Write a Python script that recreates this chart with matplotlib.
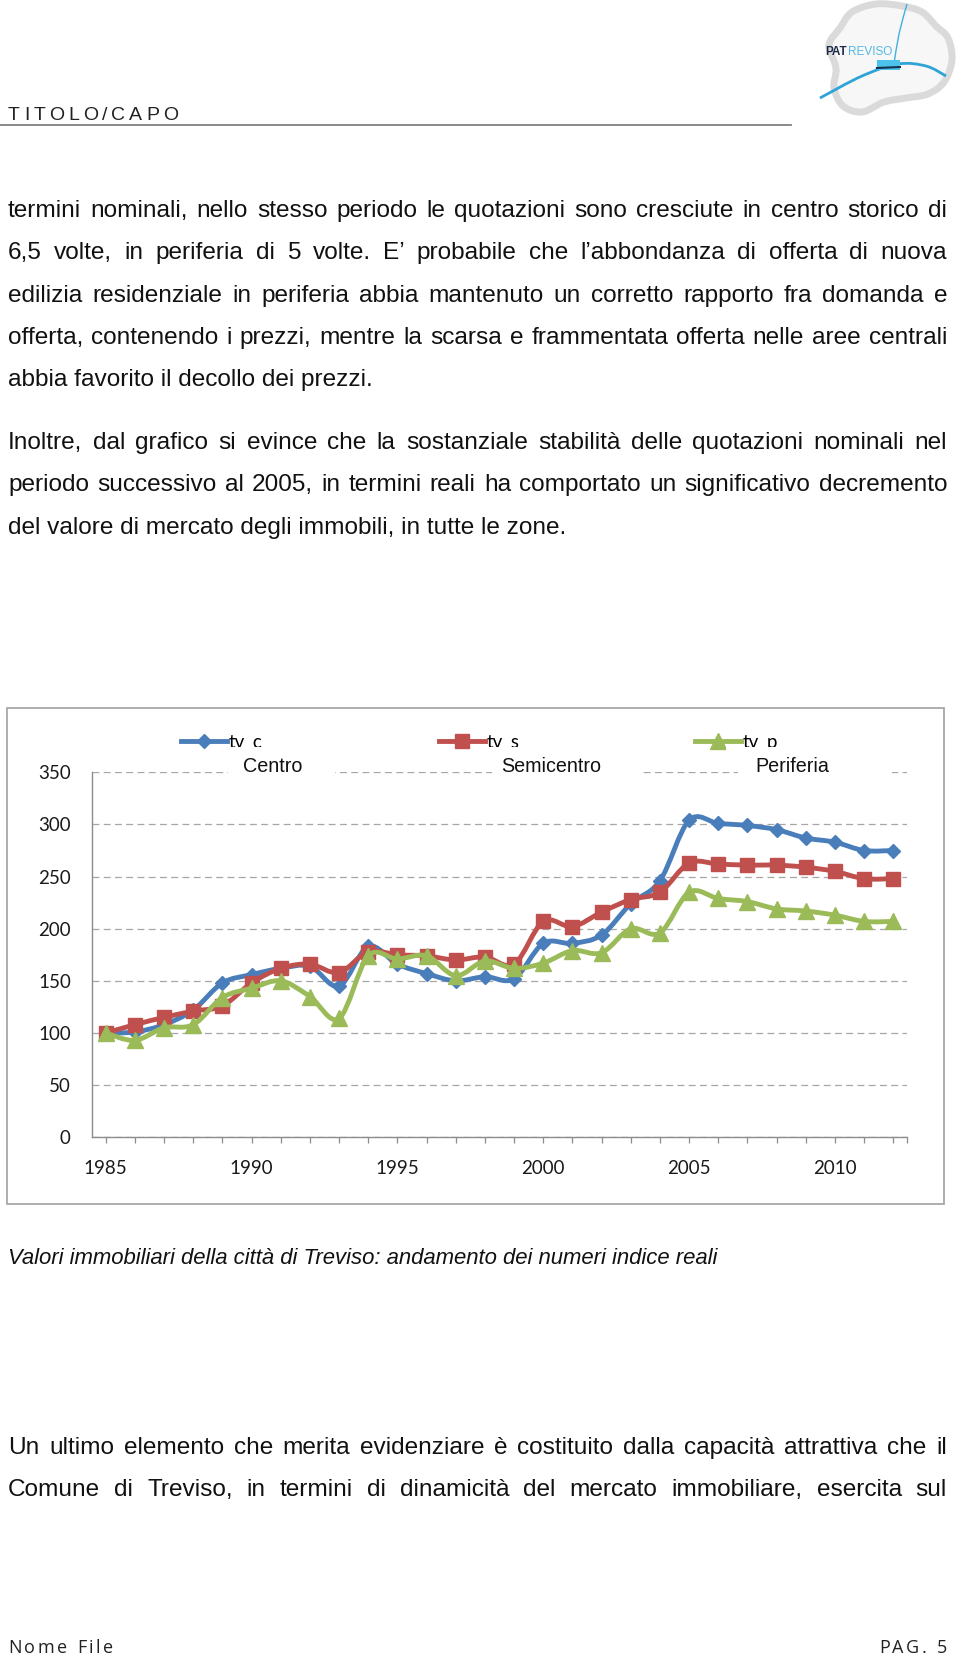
import numpy as np
import matplotlib
matplotlib.use("Agg")
import matplotlib.pyplot as plt
from matplotlib.path import Path
from matplotlib.patches import PathPatch, Rectangle
from matplotlib.lines import Line2D

# ---------------- data ----------------
years = list(range(1985, 2013))
tv_c = [100, 101, 108, 122, 148, 156, 162, 164, 145, 183, 166, 157, 150, 154,
        152, 186, 186, 194, 224, 246, 304, 301, 299, 295, 287, 283, 275, 275]
tv_s = [100, 108, 115, 121, 126, 148, 162, 166, 158, 178, 175, 174, 170, 173,
        166, 207, 202, 216, 228, 235, 263, 262, 261, 261, 259, 255, 248, 248]
tv_p = [100, 93, 105, 108, 134, 143, 150, 135, 114, 174, 171, 174, 155, 169,
        162, 167, 179, 177, 200, 196, 235, 229, 226, 219, 217, 213, 207, 207]
series_names = ["tv_c", "tv_s", "tv_p"]
zone_labels = ["Centro", "Semicentro", "Periferia"]
year_labels = ["1985", "1990", "1995", "2000", "2005", "2010"]
y_ticks = [0, 50, 100, 150, 200, 250, 300, 350]

para1 = [
    "termini nominali, nello stesso periodo le quotazioni sono cresciute in centro storico di",
    "6,5 volte, in periferia di 5 volte. E’ probabile che l’abbondanza di offerta di nuova",
    "edilizia residenziale in periferia abbia mantenuto un corretto rapporto fra domanda e",
    "offerta, contenendo i prezzi, mentre la scarsa e frammentata offerta nelle aree centrali",
    "abbia favorito il decollo dei prezzi.",
]
para2 = [
    "Inoltre, dal grafico si evince che la sostanziale stabilità delle quotazioni nominali nel",
    "periodo successivo al 2005, in termini reali ha comportato un significativo decremento",
    "del valore di mercato degli immobili, in tutte le zone.",
]
para3 = [
    "Un ultimo elemento che merita evidenziare è costituito dalla capacità attrattiva che il",
    "Comune di Treviso, in termini di dinamicità del mercato immobiliare, esercita sul",
]
caption = "Valori immobiliari della città di Treviso: andamento dei numeri indice reali"
header = "TITOLO/CAPO"
footer_left = "Nome File"
footer_right = "PAG. 5"

# ---------------- figure ----------------
W, H = 960, 1657
fig = plt.figure(figsize=(W / 100, H / 100), dpi=100)
fig.patch.set_facecolor("white")
renderer = fig.canvas.get_renderer()


def fx(x):
    return x / W


def fy(y):
    return 1 - y / H


def measure(s, **kw):
    t = fig.text(0, 0, s, **kw)
    w = t.get_window_extent(renderer).width
    t.remove()
    return w


BODY = dict(fontsize=17.6, family=["Liberation Sans", "DejaVu Sans"], color="#111111")


def justify(y, line, x0=8, x1=947, justified=True, **kw):
    words = line.split(" ")
    if not justified:
        fig.text(fx(x0), fy(y), line, va="baseline", ha="left", **kw)
        return
    widths = [measure(w, **kw) for w in words]
    gap = (x1 - x0 - sum(widths)) / (len(words) - 1)
    x = x0
    for w, wd in zip(words, widths):
        fig.text(fx(x), fy(y), w, va="baseline", ha="left", **kw)
        x += wd + gap


def tracked(x, y, s, track, ha="left", **kw):
    base = measure("H", **kw)
    offs = [0.0] + [measure(s[:i] + "H", **kw) - base for i in range(1, len(s) + 1)]
    total = offs[-1] + track * (len(s) - 1)
    if ha == "right":
        x = x - total
    for i, ch in enumerate(s):
        if ch.strip():
            fig.text(fx(x + offs[i] + track * i), fy(y), ch, va="baseline", ha="left", **kw)


# header
tracked(8, 120, header, 4.0, fontsize=14, family=["Liberation Sans"], color="#222222")
fig.add_artist(Line2D([0, fx(791)], [fy(125), fy(125)], transform=fig.transFigure,
                      color="#808080", lw=1.3))


# logo (approximate drawing)
def closed_smooth(pts, t=1 / 6):
    pts = np.asarray(pts, float)
    n = len(pts)
    verts = [tuple(pts[0])]
    codes = [Path.MOVETO]
    for i in range(n):
        p0, p1, p2, p3 = pts[i - 1], pts[i], pts[(i + 1) % n], pts[(i + 2) % n]
        c1 = p1 + (p2 - p0) * t
        c2 = p2 - (p3 - p1) * t
        verts += [tuple(c1), tuple(c2), tuple(p2)]
        codes += [Path.CURVE4] * 3
    return Path(verts, codes)


def open_smooth(pts, t=1 / 6):
    pts = np.asarray(pts, float)
    n = len(pts)
    verts = [tuple(pts[0])]
    codes = [Path.MOVETO]
    for i in range(n - 1):
        p0 = pts[max(i - 1, 0)]
        p3 = pts[min(i + 2, n - 1)]
        c1 = pts[i] + (pts[i + 1] - p0) * t
        c2 = pts[i + 1] - (p3 - pts[i]) * t
        verts += [tuple(c1), tuple(c2), tuple(pts[i + 1])]
        codes += [Path.CURVE4] * 3
    return Path(verts, codes)


def figpts(pts):
    return [(fx(a), fy(b)) for a, b in pts]


cloud = figpts([(836, 68), (829, 45), (840, 28), (852, 12), (876, 4),
                (902, 6), (922, 12), (936, 26), (948, 38), (952, 60),
                (944, 82), (928, 94), (906, 98), (884, 102), (862, 112),
                (843, 106), (834, 88)])
fig.add_artist(PathPatch(closed_smooth(cloud), transform=fig.transFigure,
                         facecolor="#f7f7f7", edgecolor="#dadada", lw=5))
fig.add_artist(PathPatch(open_smooth(figpts([(820, 98), (862, 76), (898, 64), (926, 66), (946, 76)])),
                         transform=fig.transFigure, facecolor="none", edgecolor="#2ea3d8", lw=2))
fig.add_artist(PathPatch(open_smooth(figpts([(894, 64), (899, 34), (907, 4)])),
                         transform=fig.transFigure, facecolor="none", edgecolor="#3fb0e0", lw=1))
fig.add_artist(Rectangle((fx(877), fy(70)), 23 / W, 10 / H, transform=fig.transFigure,
                         facecolor="#4cc3ea", edgecolor="none"))
fig.add_artist(Line2D([fx(877), fx(900)], [fy(68), fy(67)], transform=fig.transFigure,
                      color="#16324f", lw=1.5))
logo_kw = dict(fontsize=8.5, family=["Liberation Sans Narrow", "Liberation Sans"])
pat_w = measure("PAT", fontweight="bold", **logo_kw)
fig.text(fx(825), fy(55), "PAT", fontweight="bold", color="#1d2b4a", va="baseline", **logo_kw)
fig.text(fx(825 + pat_w + 1), fy(55), "REVISO", color="#55b8e2", va="baseline", **logo_kw)

# body text
y = 217
for i, line in enumerate(para1):
    justify(y, line, justified=(i < len(para1) - 1), **BODY)
    y += 42.3
y = 449
for i, line in enumerate(para2):
    justify(y, line, justified=(i < len(para2) - 1), **BODY)
    y += 42.3
y = 1454
for line in para3:
    justify(y, line, justified=True, **BODY)
    y += 42.3

# caption (italic)
cap_kw = dict(family=["Liberation Sans", "DejaVu Sans"], style="italic", color="#111111")
w10 = measure(caption, fontsize=10, **cap_kw)
fig.text(fx(8), fy(1264), caption, fontsize=10 * 716 / w10, va="baseline", **cap_kw)

# footer
tracked(8, 1653, footer_left, 2.6, fontsize=13, family=["Open Sans"], color="#222222")
tracked(947, 1653, footer_right, 2.6, ha="right", fontsize=13, family=["Open Sans"], color="#222222")

# ---------------- chart ----------------
fig.add_artist(Rectangle((fx(7.4), fy(1204)), (944 - 7.4) / W, (1204 - 708) / H,
                         transform=fig.transFigure, fill=False, edgecolor="#a8a8a8", lw=1.3))

ax = fig.add_axes([fx(91.7), fy(1137.3), (907.3 - 91.7) / W, 365 / H])
ax.set_xlim(1984.52, 2012.48)
ax.set_ylim(0, 350)

colors = ["#4a7ebb", "#c0504d", "#9bbb59"]
markers = ["D", "s", "^"]
msizes = [7.4, 10, 11]
data = [tv_c, tv_s, tv_p]


def smooth_path(x, y, t=1 / 6):
    x = np.asarray(x, float)
    y = np.asarray(y, float)
    n = len(x)
    verts = [(x[0], y[0])]
    codes = [Path.MOVETO]
    for i in range(n - 1):
        i0 = max(i - 1, 0)
        i3 = min(i + 2, n - 1)
        c1 = (x[i] + (x[i + 1] - x[i0]) * t, y[i] + (y[i + 1] - y[i0]) * t)
        c2 = (x[i + 1] - (x[i3] - x[i]) * t, y[i + 1] - (y[i3] - y[i]) * t)
        verts += [c1, c2, (x[i + 1], y[i + 1])]
        codes += [Path.CURVE4] * 3
    return Path(verts, codes)


handles = []
for k, (vals, c, m, ms) in enumerate(zip(data, colors, markers, msizes)):
    ax.add_patch(PathPatch(smooth_path(years, vals), facecolor="none", edgecolor=c,
                           lw=3.5, zorder=3 + k * 2, capstyle="round", joinstyle="round"))
    ax.plot(years, vals, linestyle="none", marker=m, ms=ms, color=c, mec=c, zorder=4 + k * 2)
    handles.append(Line2D([], [], color=c, lw=3.5, marker=m, ms=ms, mec=c))

ax.set_yticks(y_ticks)
ax.set_yticklabels([str(v) for v in y_ticks])
ax.set_xticks(years)
ax.set_xticklabels([str(yv) if str(yv) in year_labels else "" for yv in years])
ax.set_xticks([2012.48], minor=True)
ax.tick_params(axis="x", which="both", length=4.2, width=0.9, color="#8c8c8c",
               direction="out", pad=12.5, labelsize=13.5)
ax.tick_params(axis="y", length=0, pad=15, labelsize=13.5)
for lab in ax.get_xticklabels() + ax.get_yticklabels():
    lab.set_family(["Lato", "DejaVu Sans"])
    lab.set_color("#1a1a1a")
ax.yaxis.grid(True, linestyle=(0, (5.5, 3.5)), color="#a6a6a6", lw=0.9)
ax.set_axisbelow(True)
for s in ["top", "right"]:
    ax.spines[s].set_visible(False)
for s in ["left", "bottom"]:
    ax.spines[s].set_color("#8c8c8c")
    ax.spines[s].set_linewidth(1.0)

# legend entries (one per series)
leg_x = [181, 439, 695]
for h, name, lx in zip(handles, series_names, leg_x):
    lg = fig.legend(handles=[h], labels=[name], loc="center left",
                    bbox_to_anchor=(fx(lx), fy(742)), frameon=False, borderpad=0,
                    borderaxespad=0, handlelength=2.45, handletextpad=0.08,
                    prop={"family": "Lato", "size": 13.5})
    lg.set_zorder(5)

# white boxes with zone names (cover legend text bottoms and gridline)
text_start = [228, 474, 726]
box_ranges = [(228, 335), (492, 640), (738, 892)]
for lab, ts, (b0, b1) in zip(zone_labels, text_start, box_ranges):
    fig.add_artist(Rectangle((fx(ts), fy(762)), (b1 - ts) / W, 15 / H, transform=fig.transFigure,
                             facecolor="white", edgecolor="none", zorder=10))
    fig.add_artist(Rectangle((fx(b0), fy(792)), (b1 - b0) / W, 31 / H, transform=fig.transFigure,
                             facecolor="white", edgecolor="none", zorder=10))
centers = [273, 551, 792]
for lab, cx in zip(zone_labels, centers):
    fig.text(fx(cx), fy(767), lab, ha="center", va="center", fontsize=14.2,
             family=["Liberation Sans", "DejaVu Sans"], color="#111111", zorder=11)

fig.savefig("out.png", dpi=100, facecolor="white")
